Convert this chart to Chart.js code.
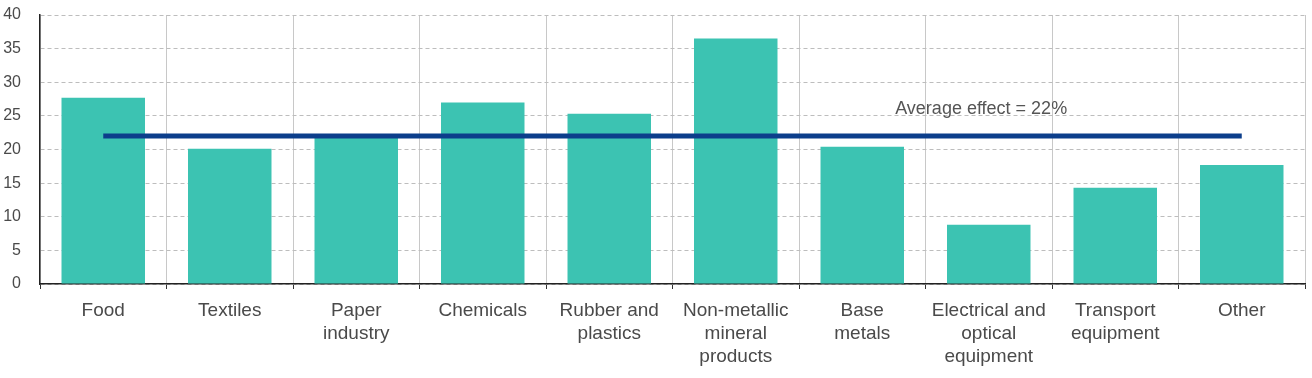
<!DOCTYPE html>
<html>
<head>
<meta charset="utf-8">
<script src="https://cdn.jsdelivr.net/npm/chart.js@4/dist/chart.umd.min.js"></script>
<style>
  html, body { margin: 0; padding: 0; background: #fff; }
  #wrap { width: 1312px; height: 378px; }
</style>
</head>
<body>
<div id="wrap"><canvas id="chart" width="1312" height="378"></canvas></div>
<script>
// data
const categories = [
  'Food', 'Textiles', ['Paper', 'industry'], 'Chemicals', ['Rubber and', 'plastics'],
  ['Non-metallic', 'mineral', 'products'], ['Base', 'metals'],
  ['Electrical and', 'optical', 'equipment'], ['Transport', 'equipment'], 'Other'
];
const effects = [27.7, 20.1, 21.8, 27.0, 25.3, 36.5, 20.4, 8.8, 14.3, 17.7];
const averageEffect = 22;
const averageLine = categories.map(() => averageEffect);
const averageLabel = 'Average effect = 22%';
const averageLabelAt = { x: 6.94, y: 26 };
const yTicks = { min: 0, max: 40, step: 5 };

const fontFamily = '"Liberation Sans", Arial, Helvetica, sans-serif';

// draws the "Average effect" note in data space
const avgNote = {
  id: 'avgNote',
  afterDatasetsDraw(chart) {
    const { ctx, scales } = chart;
    const px = scales.x.getPixelForValue(averageLabelAt.x);
    const py = scales.y.getPixelForValue(averageLabelAt.y);
    ctx.save();
    ctx.font = '18px ' + fontFamily;
    ctx.fillStyle = '#555';
    ctx.textAlign = 'center';
    ctx.textBaseline = 'middle';
    ctx.fillText(averageLabel, px, py);
    ctx.restore();
  }
};

new Chart(document.getElementById('chart'), {
  data: {
    labels: categories,
    datasets: [
      {
        type: 'line',
        data: averageLine,
        borderColor: '#0c3e8b',
        borderWidth: 5,
        pointRadius: 0,
        fill: false,
        order: 0
      },
      {
        type: 'bar',
        data: effects,
        backgroundColor: '#3cc3b2',
        borderWidth: 0,
        categoryPercentage: 0.66,
        barPercentage: 1,
        order: 1
      }
    ]
  },
  options: {
    responsive: false,
    animation: false,
    layout: { padding: { top: 15, right: 7, bottom: 0, left: 0 } },
    plugins: {
      legend: { display: false },
      tooltip: { enabled: false }
    },
    scales: {
      x: {
        afterFit(scale) { scale.height = 94; },
        grid: {
          color: '#c8c8c8',
          tickColor: '#333',
          tickLength: 5,
          offset: true
        },
        border: { color: '#222', width: 1.5 },
        ticks: {
          color: '#4a4a4a',
          padding: 10,
          maxRotation: 0,
          autoSkip: false,
          font: { family: fontFamily, size: 19, lineHeight: 1.21 }
        }
      },
      y: {
        min: yTicks.min,
        max: yTicks.max,
        afterFit(scale) {
          scale.width = 40;
          scale.paddingTop = 0;
          scale.paddingBottom = 0;
        },
        grid: {
          color: '#bdbdbd',
          drawTicks: false
        },
        border: { color: '#222', width: 1.5, dash: [4, 3] },
        ticks: {
          stepSize: yTicks.step,
          color: '#4a4a4a',
          padding: 19,
          font: { family: fontFamily, size: 16 }
        }
      }
    }
  },
  plugins: [avgNote]
});
</script>
</body>
</html>
